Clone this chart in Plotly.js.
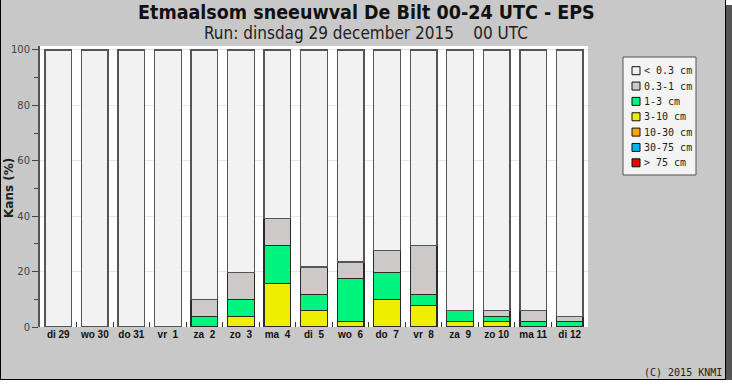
<!DOCTYPE html>
<html>
<head>
<meta charset="utf-8">
<script src="https://cdn.plot.ly/plotly-3.0.1.min.js"></script>
<style>
  html, body { margin: 0; padding: 0; background: #ffffff; }
  #chart {
    width: 724px; height: 379px;
    border-left: 1px solid #000; border-right: 1px solid #000; border-bottom: 1px solid #000;
    box-shadow: 6px 5px 0 #545454;
  }
</style>
</head>
<body>
<div id="chart"></div>
<script>
// ---- data (percent chance per class) ----
var days = ["di 29", "wo 30", "do 31", "vr  1", "za  2", "zo  3", "ma  4", "di  5",
            "wo  6", "do  7", "vr  8", "za  9", "zo 10", "ma 11", "di 12"];
var classNames = ["< 0.3 cm", "0.3-1 cm", "1-3 cm", "3-10 cm", "10-30 cm", "30-75 cm", "> 75 cm"];
var pLt03  = [100, 100, 100, 100, 90.2, 80.4, 60.8, 78.4, 76.5, 72.5, 70.6, 94.1, 94.1, 94.1, 96.1];
var p03_1  = [0, 0, 0, 0, 5.9, 9.8, 9.8, 9.8, 5.9, 7.9, 17.6, 0, 2.0, 3.9, 1.9];
var p1_3   = [0, 0, 0, 0, 3.9, 5.9, 13.7, 5.9, 15.6, 9.8, 4.0, 3.9, 1.9, 2.0, 2.0];
var p3_10  = [0, 0, 0, 0, 0, 3.9, 15.7, 5.9, 2.0, 9.8, 7.8, 2.0, 2.0, 0, 0];
var p10_30 = [0, 0, 0, 0, 0, 0, 0, 0, 0, 0, 0, 0, 0, 0, 0];
var p30_75 = [0, 0, 0, 0, 0, 0, 0, 0, 0, 0, 0, 0, 0, 0, 0];
var pGt75  = [0, 0, 0, 0, 0, 0, 0, 0, 0, 0, 0, 0, 0, 0, 0];

// ---- styling ----
var colors = ["#f2f2f2", "#cdc9c9", "#00f57e", "#eeee00", "#ffa500", "#00b2ee", "#ee0000"];
var seriesLegendOrder = [pLt03, p03_1, p1_3, p3_10, p10_30, p30_75, pGt75];

function esc(s) { return s.replace(/</g, "&lt;").replace(/>/g, "&gt;"); }
var cats = days.map(function (d) { return d.replace(/ /g, "\u00a0"); });

// plot-area geometry in div pixels (for placing the hand-drawn legend)
var W = 724, H = 379, ML = 39, MR = 137, MT = 46, MB = 52;
var PW = W - ML - MR, PH = H - MT - MB;
function px(x) { return (x - 1 - ML) / PW; }        // page x -> paper
function py(y) { return (H - MB - y) / PH; }        // page y -> paper

// stack from bottom (> 75 cm) to top (< 0.3 cm)
var traces = [];
for (var i = seriesLegendOrder.length - 1; i >= 0; i--) {
  traces.push({
    type: "bar",
    name: esc(classNames[i]),
    x: cats,
    y: seriesLegendOrder[i],
    marker: { color: colors[i], line: { color: i === 0 ? "#555555" : "#2a2a2a", width: 1.3 } },
    hoverinfo: "x+y+name"
  });
}

// legend drawn as shapes + annotations from classNames / colors
var shapes = [{
  type: "rect", xref: "paper", yref: "paper", layer: "above",
  x0: px(623), x1: px(696), y0: py(175), y1: py(57),
  fillcolor: "#f4f4f4", line: { color: "#555555", width: 1 }
}];
var annotations = [];
var legendTop = 70.7, legendStep = 15.35;
for (var k = 0; k < classNames.length; k++) {
  var cy = legendTop + k * legendStep;
  shapes.push({
    type: "rect", xref: "paper", yref: "paper", layer: "above",
    x0: px(632), x1: px(640), y0: py(cy + 4), y1: py(cy - 4),
    fillcolor: colors[k], line: { color: "#111111", width: 1 }
  });
  annotations.push({
    xref: "paper", yref: "paper", x: px(642), y: py(cy), xanchor: "left", yanchor: "middle",
    showarrow: false, text: esc(classNames[k]),
    font: { family: "DejaVu Sans Mono", size: 10, color: "#222" }
  });
}

annotations.push(
  { xref: "paper", yref: "paper", x: px(366), y: py(12.5), xanchor: "center", yanchor: "middle", showarrow: false,
    text: "<b>Etmaalsom sneeuwval De Bilt 00-24 UTC - EPS</b>",
    font: { family: "DejaVu Sans Condensed", size: 19.5, color: "#111" } },
  { xref: "paper", yref: "paper", x: px(366), y: py(32.5), xanchor: "center", yanchor: "middle", showarrow: false,
    text: "Run: dinsdag 29 december 2015\u00a0\u00a0\u00a0 00 UTC",
    font: { family: "DejaVu Sans Condensed", size: 17, color: "#222" } },
  { xref: "paper", yref: "paper", x: px(9), y: py(188), xanchor: "center", yanchor: "middle", showarrow: false,
    textangle: -90, text: "<b>Kans (%)</b>",
    font: { family: "DejaVu Sans", size: 12, color: "#222" } },
  { xref: "paper", yref: "paper", x: px(724), y: py(372), xanchor: "right", yanchor: "middle", showarrow: false,
    text: "(C) 2015 KNMI",
    font: { family: "DejaVu Sans Mono", size: 10, color: "#222" } }
);

var layout = {
  width: W, height: H,
  margin: { l: ML, r: MR, t: MT, b: MB },
  paper_bgcolor: "#c8c8c8",
  plot_bgcolor: "#ffffff",
  barmode: "stack",
  bargap: 0.27,
  showlegend: false,
  xaxis: {
    type: "category",
    tickson: "boundaries",
    ticks: "inside", ticklen: 5, tickcolor: "#333", tickwidth: 1,
    tickangle: 0,
    showgrid: false, showline: false, zeroline: false,
    tickfont: { family: "Liberation Sans", size: 10, color: "#111", weight: "bold" },
    fixedrange: true
  },
  yaxis: {
    range: [0, 101.4],
    tickvals: [0, 20, 40, 60, 80, 100],
    ticks: "outside", ticklen: 6, tickcolor: "#444", tickwidth: 1,
    minor: { dtick: 10, ticks: "outside", ticklen: 4, tickcolor: "#444", showgrid: false },
    showgrid: true, gridcolor: "#e4e4e4", gridwidth: 1,
    showline: true, linecolor: "#555555", linewidth: 2,
    zeroline: false,
    tickfont: { family: "DejaVu Sans", size: 10, color: "#444" },
    fixedrange: true
  },
  shapes: shapes,
  annotations: annotations
};

Plotly.newPlot("chart", traces, layout, { displayModeBar: false, staticPlot: true });
</script>
</body>
</html>
